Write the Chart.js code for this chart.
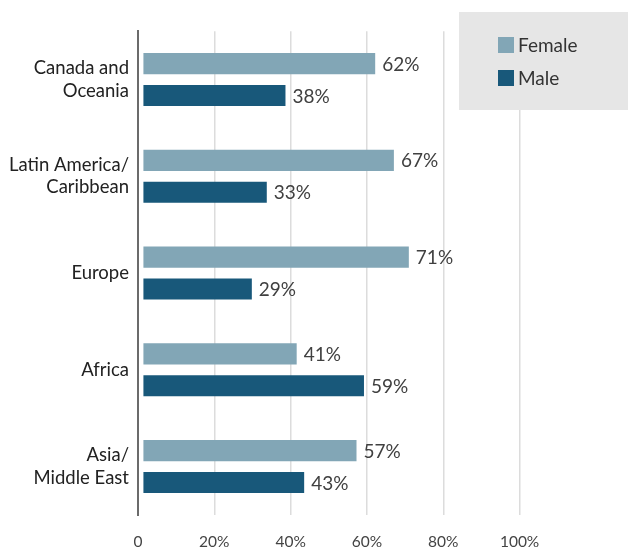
<!DOCTYPE html>
<html>
<head>
<meta charset="utf-8">
<script src="https://cdn.jsdelivr.net/npm/chart.js@4.4.1/dist/chart.umd.min.js"></script>
<style>
  html, body { margin: 0; padding: 0; background: #fff; }
  #wrap { width: 628px; height: 548px; }
</style>
</head>
<body>
<div id="wrap"><canvas id="regionChart" width="628" height="548"></canvas></div>
<script>
// Data
const regions = [['Canada and', 'Oceania'], ['Latin America/', 'Caribbean'], 'Europe', 'Africa', ['Asia/', 'Middle East']];
const femaleShare = [62, 67, 71, 41, 57];
const maleShare = [38, 33, 29, 59, 43];
const xTicks = [0, 20, 40, 60, 80, 100];

const FEMALE_COLOR = '#82a6b6';
const MALE_COLOR = '#18587a';

// value labels to the right of each bar
const valueLabels = {
    id: 'valueLabels',
    afterDatasetsDraw(chart) {
        const ctx = chart.ctx;
        ctx.save();
        ctx.font = '19px Lato';
        ctx.fillStyle = '#404040';
        ctx.textAlign = 'left';
        ctx.textBaseline = 'middle';
        chart.data.datasets.forEach((ds, i) => {
            chart.getDatasetMeta(i).data.forEach((bar, j) => {
                ctx.fillText(ds.data[j] + '%', bar.x + 7, bar.y + 1);
            });
        });
        ctx.restore();
    }
};

// grey legend box in the top right corner
const boxLegend = {
    id: 'boxLegend',
    afterDraw(chart) {
        const ctx = chart.ctx;
        ctx.save();
        ctx.fillStyle = '#e6e6e6';
        ctx.fillRect(459, 12, 169, 98);
        ctx.font = '19px Lato';
        ctx.textAlign = 'left';
        ctx.textBaseline = 'middle';
        chart.data.datasets.forEach((ds, i) => {
            const y = 37 + i * 33;
            ctx.fillStyle = ds.backgroundColor;
            ctx.fillRect(498, y, 16, 16);
            ctx.fillStyle = '#333';
            ctx.fillText(ds.label, 518, y + 9);
        });
        ctx.restore();
    }
};

const ctx = document.getElementById('regionChart').getContext('2d');

const regionChart = new Chart(ctx, {
    type: 'bar',
    data: {
        labels: regions,
        datasets: [
            {
                label: 'Female',
                data: femaleShare,
                backgroundColor: FEMALE_COLOR,
                xAxisID: 'xBar'
            },
            {
                label: 'Male',
                data: maleShare,
                backgroundColor: MALE_COLOR,
                xAxisID: 'xBar'
            }
        ]
    },
    options: {
        indexAxis: 'y',
        responsive: false,
        animation: false,
        events: [],
        layout: { padding: { top: 29, right: 13, left: 0, bottom: 0 } },
        datasets: {
            bar: {
                categoryPercentage: 0.66,
                barPercentage: 0.66
            }
        },
        plugins: {
            legend: { display: false },
            tooltip: { enabled: false }
        },
        scales: {
            x: {
                min: 0,
                max: 125,
                afterBuildTicks: (scale) => {
                    scale.ticks = xTicks.map(v => ({ value: v }));
                },
                afterFit: (scale) => { scale.height = 33; },
                grid: {
                    drawTicks: false,
                    color: (c) => c.tick && c.tick.value === 0 ? 'rgba(0,0,0,0)' : '#dcdcdc',
                    lineWidth: 1.5
                },
                border: { display: false },
                ticks: {
                    padding: 18,
                    color: '#444',
                    font: { family: 'Lato', size: 15.5 },
                    callback: (v) => v === 0 ? '0' : v + '%'
                }
            },
            // bars sit on a slightly offset scale, like the original
            xBar: {
                axis: 'x',
                position: 'bottom',
                display: false,
                min: -1.45,
                max: 126.15
            },
            y: {
                afterFit: (scale) => { scale.width = 138; },
                grid: { display: false, drawTicks: false },
                border: { display: true, color: '#6b6b6b', width: 2 },
                ticks: {
                    padding: 9,
                    color: '#222',
                    font: { family: 'Lato', size: 18.5, lineHeight: 1.2 }
                }
            }
        }
    },
    plugins: [valueLabels, boxLegend]
});
</script>
</body>
</html>
